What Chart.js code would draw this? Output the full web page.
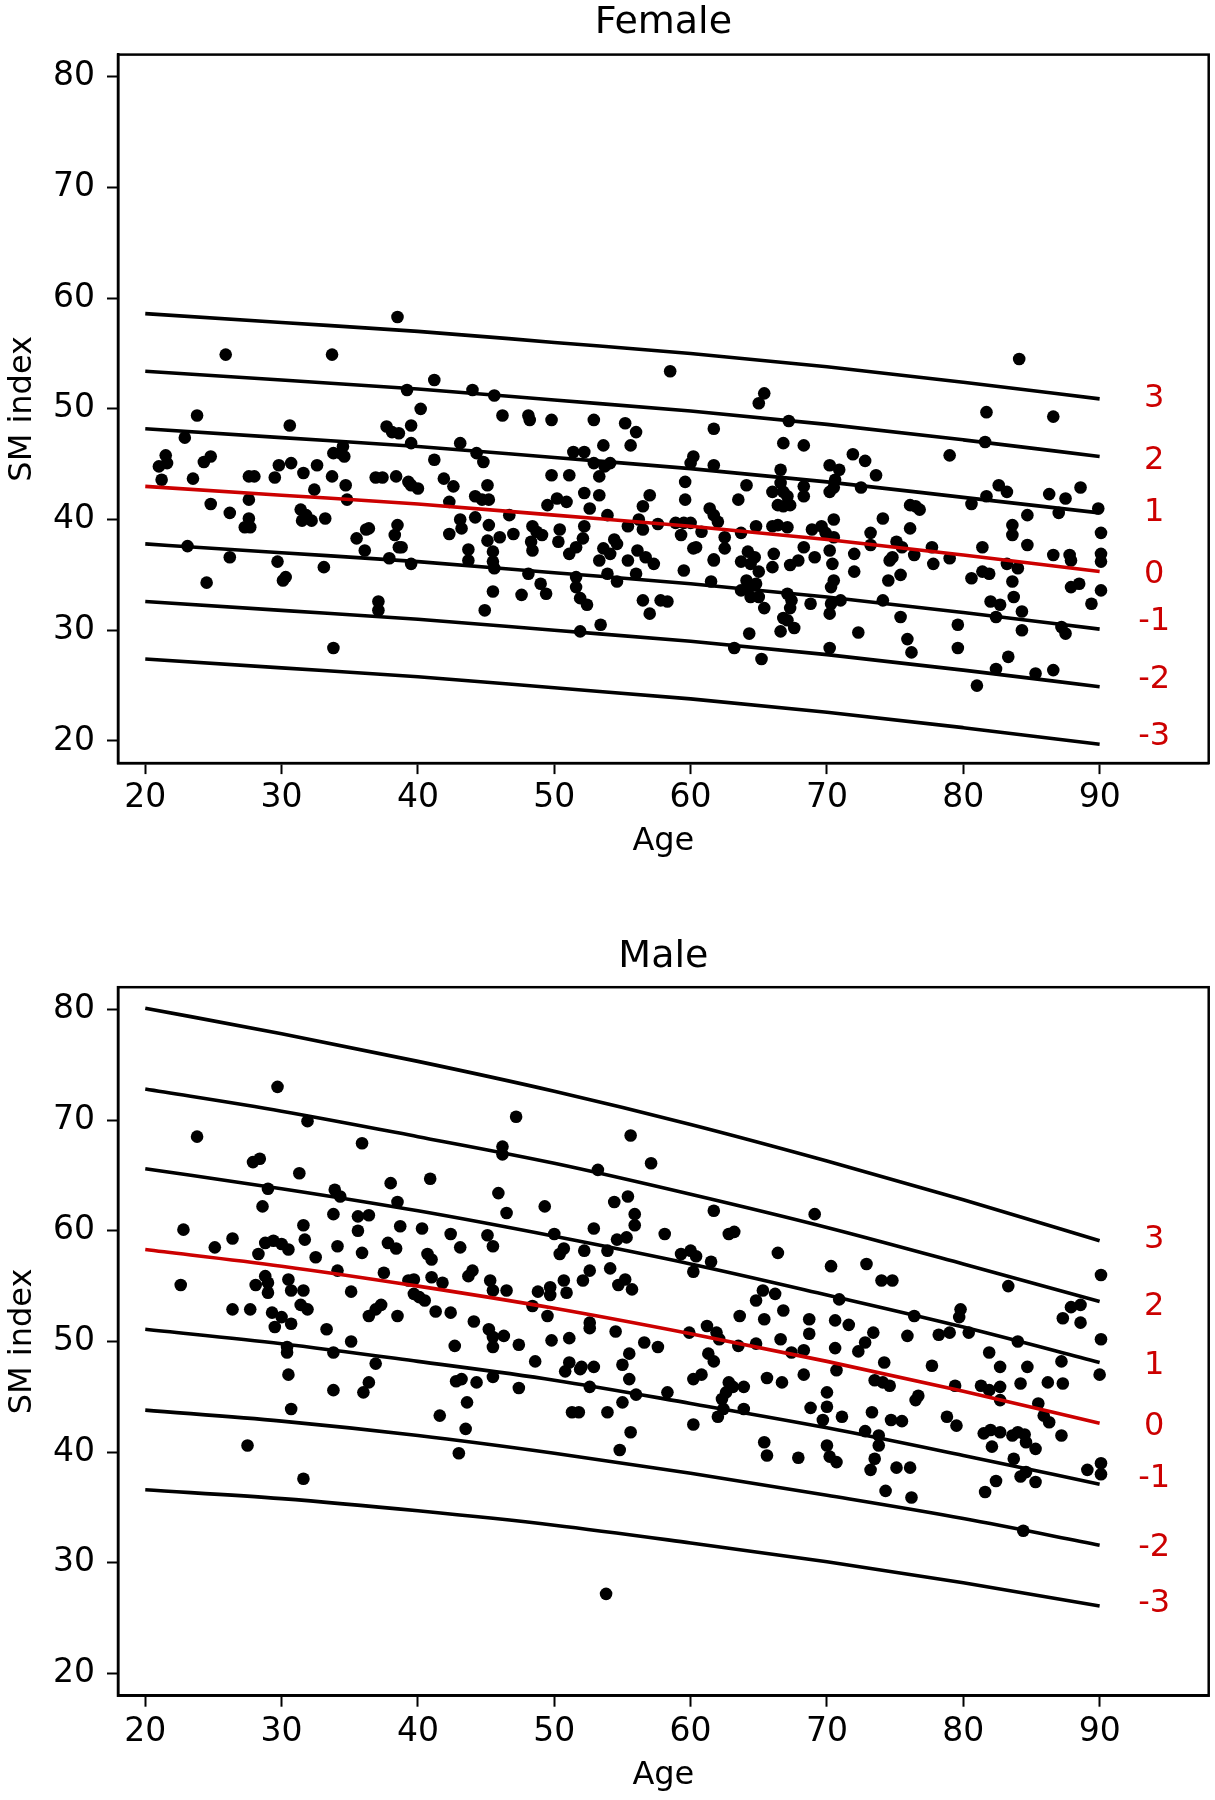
<!DOCTYPE html>
<html><head><meta charset="utf-8">
<script src="https://cdn.jsdelivr.net/npm/chart.js@4/dist/chart.umd.min.js"></script>
<style>
html,body{margin:0;padding:0;background:#fff;}
#wrap{position:relative;width:1215px;height:1800px;}
canvas{position:absolute;left:0;}
</style></head><body>
<div id="wrap">
<canvas id="c1" width="1215" height="900" style="top:0px"></canvas>
<canvas id="c2" width="1215" height="900" style="top:900px"></canvas>
</div>
<script>
const ages = [20,30,40,50,60,70,80,90];
const xTicks = [20,30,40,50,60,70,80,90];
const yTicks = [20,30,40,50,60,70,80];
const zLabels = ['3','2','1','0','-1','-2','-3'];
const labelAge = 94;

const femaleZ3  = [58.6, 57.8, 57.0, 56.0, 55.0, 53.8, 52.4, 50.9];
const femaleZ2  = [53.4, 52.6, 51.8, 50.8, 49.8, 48.6, 47.2, 45.7];
const femaleZ1  = [48.2, 47.4, 46.6, 45.6, 44.6, 43.4, 42.0, 40.6];
const femaleZ0  = [43.0, 42.2, 41.4, 40.4, 39.4, 38.2, 36.8, 35.3];
const femaleZm1 = [37.8, 37.0, 36.2, 35.2, 34.2, 33.0, 31.6, 30.1];
const femaleZm2 = [32.6, 31.8, 31.0, 30.0, 29.0, 27.8, 26.4, 24.9];
const femaleZm3 = [27.4, 26.6, 25.8, 24.8, 23.8, 22.6, 21.2, 19.7];
const femaleLabelY = [50.9, 45.3, 40.6, 35.0, 30.8, 25.5, 20.4];

const maleZ3  = [80.1, 77.8, 75.3, 72.6, 69.6, 66.3, 62.8, 59.1];
const maleZ2  = [72.8, 70.8, 68.5, 66.1, 63.3, 60.3, 57.0, 53.6];
const maleZ1  = [65.6, 63.8, 61.8, 59.5, 57.0, 54.2, 51.3, 48.1];
const maleZ0  = [58.3, 56.8, 55.0, 53.0, 50.7, 48.2, 45.5, 42.6];
const maleZm1 = [51.1, 49.8, 48.2, 46.5, 44.4, 42.2, 39.7, 37.1];
const maleZm2 = [43.8, 42.8, 41.5, 39.9, 38.1, 36.1, 34.0, 31.6];
const maleZm3 = [36.6, 35.8, 34.7, 33.4, 31.8, 30.1, 28.2, 26.1];
const maleLabelY = [59.2, 53.1, 47.8, 42.3, 37.6, 31.4, 26.3];

const femalePoints = [
[23.8,49.4],[30.6,48.5],[22.9,47.4],[21.0,44.8],[21.5,45.8],[21.6,45.1],[21.2,43.6],[24.3,45.2],[24.8,45.7],[23.5,43.7],
[23.1,37.6],[24.8,41.4],[24.5,34.3],[26.2,40.6],[26.2,36.6],[27.6,43.9],[28.0,43.9],[27.6,41.8],[27.6,40.1],[27.7,39.3],
[27.3,39.3],[29.5,43.8],[29.8,44.9],[30.7,45.1],[29.7,36.2],[30.1,34.5],[30.3,34.8],[31.6,44.2],[31.4,40.9],[31.8,40.4],
[31.5,39.9],[32.2,39.9],[32.4,42.7],[32.6,44.9],[33.2,40.1],[33.1,35.7],[33.8,28.4],[33.7,43.9],[33.8,46.0],[34.3,46.0],
[34.5,46.6],[34.6,45.7],[34.7,43.1],[34.8,41.8],[35.5,38.3],[36.2,39.1],[36.4,39.2],[36.1,37.2],[36.9,43.8],[37.4,43.8],
[38.4,43.9],[37.1,32.6],[37.1,31.8],[37.7,48.4],[38.1,47.9],[38.6,47.8],[39.5,48.5],[40.2,50.0],[39.5,46.9],[39.3,43.4],
[39.5,43.1],[40.0,42.8],[38.5,39.5],[38.3,38.6],[38.6,37.5],[38.8,37.5],[37.9,36.5],[39.5,36.0],[41.2,45.4],[41.9,43.7],
[42.6,43.0],[42.3,41.6],[43.1,40.0],[43.2,39.2],[42.3,38.7],[43.1,46.9],[43.7,37.3],[43.7,36.3],[44.3,46.0],[44.8,45.2],
[44.2,42.1],[44.7,41.8],[44.2,40.2],[45.1,43.1],[45.2,41.8],[45.2,39.5],[45.1,38.1],[45.5,37.1],[45.5,36.2],[45.6,35.6],
[45.5,33.5],[44.9,31.8],[46.2,49.4],[46.7,40.4],[47.0,38.7],[46.0,38.4],[47.6,33.2],[48.1,49.4],[48.2,49.0],[48.4,39.4],
[48.7,38.9],[49.1,38.6],[48.3,38.0],[48.4,37.2],[48.1,35.1],[49.0,34.2],[49.4,33.3],[49.8,49.0],[49.8,44.0],[49.5,41.3],
[50.2,41.9],[50.9,41.6],[50.4,39.1],[50.3,38.0],[51.1,44.0],[51.4,46.1],[52.2,46.1],[51.1,36.9],[51.6,37.5],[52.1,38.3],
[52.2,39.4],[52.2,42.4],[52.6,41.0],[51.6,34.8],[51.6,33.9],[51.9,32.9],[52.4,32.3],[51.9,29.9],[52.9,49.0],[52.9,45.1],
[25.9,54.9],[33.7,54.9],[38.5,58.3],[39.2,51.7],[41.2,52.6],[44.0,51.7],[45.6,51.2],
[58.5,53.4],[65.4,51.4],[65.0,50.5],[84.1,54.5],[81.7,49.7],[86.6,49.3],[61.7,48.2],[55.2,48.7],[56.0,47.9],[67.2,48.9],
[81.6,47.0],[66.8,46.9],[68.3,46.7],[53.6,46.7],[55.6,46.7],
[79.0,45.8],[71.9,45.9],[72.8,45.3],[73.6,44.0],[70.2,44.9],[70.9,44.5],[70.6,43.6],[70.2,42.5],[70.5,42.9],[53.7,44.8],
[54.1,45.1],[53.3,43.9],[60.0,45.1],[60.2,45.7],[61.7,44.9],[59.6,43.4],[59.6,41.8],[64.1,43.1],[63.5,41.8],[66.6,44.5],
[66.6,43.3],[66.8,42.5],[67.1,42.1],[66.8,41.2],[66.4,41.3],[66.0,42.5],[67.3,41.3],[68.3,43.0],[68.3,42.1],[72.5,42.9],
[53.3,42.2],[57.0,42.2],[56.5,41.2],[61.4,41.0],[61.7,40.4],[62.0,39.8],[66.0,39.4],[66.4,39.5],[67.1,39.3],[64.8,39.4],
[63.7,38.8],[60.0,39.7],[58.9,39.7],[59.5,39.7],[57.6,39.6],[56.2,40.0],[56.5,39.1],[53.9,40.4],[55.4,39.4],[54.4,38.2],
[53.6,37.4],[54.1,36.9],[54.6,37.8],[53.3,36.3],[55.4,36.3],[56.1,37.2],[56.7,36.6],[57.3,36.0],[60.4,37.5],[60.8,38.9],
[62.5,38.4],[62.5,37.4],[61.7,36.4],[59.5,35.4],[63.7,36.2],[64.2,37.1],[64.7,36.6],[64.4,36.0],[65.0,35.3],[64.8,34.2],
[66.0,35.7],[66.1,36.9],[68.3,37.5],[68.9,39.1],[69.6,39.4],[69.9,38.8],[69.1,36.6],[70.2,37.2],[70.4,36.0],[70.5,38.4],
[67.3,35.9],[67.9,36.3],[70.5,40.0],[72.0,36.9],[72.0,35.3],[73.2,38.8],[73.2,37.7],[74.1,40.1],[74.8,36.6],[74.6,36.3],
[75.1,38.0],[75.5,37.5],[76.1,39.2],[76.1,41.3],[76.8,40.9],[76.5,41.2],[76.4,36.8],[77.7,37.5],[77.8,36.0],[79.0,36.5],
[75.4,35.0],[74.5,34.5],[80.6,41.4],[81.7,42.1],[82.6,43.1],[83.2,42.5],[81.4,37.5],[83.6,39.5],[83.6,38.6],[84.7,40.4],
[84.7,37.7],[86.3,42.3],[87.5,41.9],[87.0,40.6],[88.6,42.9],[89.9,41.0],[90.1,38.8],[90.1,36.9],[90.1,36.2],[86.6,36.8],
[87.8,36.8],[87.9,36.3],[83.2,36.0],[84.0,35.6],[80.6,34.7],[81.4,35.3],[81.9,35.1],[83.6,34.4],[83.7,33.0],[82.0,32.6],
[82.7,32.3],[82.4,31.2],[84.3,31.7],[84.3,30.0],[87.9,33.9],[88.5,34.2],[89.4,32.4],[90.1,33.6],[87.2,30.3],[87.5,29.7],
[83.3,27.6],[82.4,26.5],[85.3,26.1],[86.6,26.4],[81.0,25.0],[79.6,30.5],[79.6,28.4],[75.4,31.2],[75.9,29.2],[76.2,28.0],
[74.1,32.7],[72.3,29.8],[70.2,28.4],[70.2,31.5],[70.3,32.4],[70.3,33.9],[70.5,34.5],[71.0,32.7],[68.8,32.4],[67.1,33.3],
[67.4,32.7],[67.3,32.0],[66.8,31.1],[67.1,30.9],[67.6,30.2],[66.6,29.9],[65.0,33.0],[65.4,32.0],[64.3,33.9],[64.4,33.0],
[64.1,34.5],[64.3,29.7],[63.2,28.4],[65.2,27.4],[63.7,33.6],[61.7,36.3],[61.5,34.4],[60.2,37.4],[56.5,32.7],[57.0,31.5],
[57.8,32.7],[58.3,32.6],[54.6,34.4],[53.9,35.1],[56.0,35.1],[53.4,30.5],[59.3,38.6]
];

const malePoints = [
[29.7,73.0],[23.8,68.5],[31.9,69.9],[47.2,70.3],[35.9,67.9],[27.9,66.2],[28.4,66.5],[46.2,67.6],[46.2,66.9],[31.3,65.2],
[40.9,64.7],[53.2,65.5],[29.0,63.8],[33.9,63.7],[34.3,63.1],[38.0,64.3],[38.5,62.6],[45.9,63.4],[28.6,62.2],[49.3,62.2],
[46.5,61.6],[33.8,61.5],[35.6,61.3],[36.4,61.4],[35.6,60.0],[38.7,60.4],[31.6,60.5],[31.7,59.2],[22.8,60.1],[26.4,59.3],
[25.1,58.5],[40.3,60.2],[42.4,59.7],[43.1,58.5],[45.1,59.6],[45.5,58.6],[50.0,59.7],[50.7,58.4],[50.4,57.9],[52.2,58.2],
[52.9,60.2],[28.8,58.9],[29.4,59.1],[30.0,58.8],[30.5,58.3],[28.3,57.9],[34.1,58.6],[37.8,58.9],[38.4,58.4],[35.9,58.0],
[32.5,57.6],[40.7,57.9],[41.0,57.4],[22.6,55.1],[28.1,55.1],[28.8,55.9],[29.0,55.3],[29.0,54.4],[30.5,55.6],[30.7,54.6],
[31.6,54.6],[34.1,56.4],[37.5,56.2],[39.3,55.5],[39.7,55.6],[39.7,54.3],[40.1,54.0],[40.5,53.7],[41.0,55.8],[41.8,55.3],
[35.1,54.5],[44.0,56.4],[43.7,55.9],[45.3,55.5],[45.5,54.6],[46.5,54.6],[48.8,54.5],[49.7,54.9],[49.7,54.2],[50.7,55.5],
[50.9,54.4],[52.1,55.5],[52.6,56.4],[48.4,53.2],[49.5,52.3],[26.4,52.9],[27.7,52.9],[29.3,52.6],[30.0,52.2],[29.5,51.3],
[30.7,51.6],[31.4,53.3],[31.9,52.9],[33.3,51.1],[36.4,52.3],[36.9,52.9],[37.3,53.3],[38.5,52.3],[41.3,52.7],[42.4,52.6],
[44.1,51.8],[45.2,51.1],[45.5,50.4],[46.3,50.5],[45.5,49.5],[47.4,49.7],[42.7,49.6],[35.1,50.0],[49.8,50.1],[51.1,50.3],
[52.6,51.7],[52.6,51.2],[30.4,49.5],[30.4,49.0],[33.8,49.0],[36.9,48.0],[48.6,48.2],[51.1,48.1],[52.0,47.7],[52.9,47.7],
[30.5,47.0],[30.7,43.9],[27.5,40.6],[31.6,37.6],[33.8,45.6],[36.0,45.4],[36.4,46.3],[41.6,43.3],[42.8,46.4],[43.2,46.6],
[44.3,46.3],[43.6,44.5],[43.5,42.1],[43.0,39.9],[45.5,46.8],[47.4,45.8],[50.8,47.3],[51.9,47.5],[51.3,43.6],[51.8,43.6],
[52.6,45.9],[53.8,27.2],
[55.6,68.6],[57.1,66.1],[69.1,61.5],[54.4,62.6],[55.4,63.1],[55.9,61.5],[55.9,60.5],[61.7,61.8],[54.6,59.2],[55.3,59.4],
[58.1,59.7],[53.9,58.2],[62.8,59.7],[63.2,59.9],[66.4,58.0],[59.3,57.9],[60.0,58.2],[60.4,57.7],[60.2,56.3],[61.5,57.2],
[70.3,56.8],[72.9,57.0],[74.0,55.5],[74.8,55.5],[83.3,55.0],[90.1,56.0],[54.1,56.6],[54.7,55.1],[55.2,55.6],[55.7,54.7],
[64.8,53.7],[65.3,54.6],[66.2,54.3],[70.9,53.8],[66.8,52.8],[63.6,52.3],[65.4,52.0],[68.7,52.0],[68.7,50.7],[70.6,51.9],
[71.6,51.5],[73.4,50.8],[76.4,52.3],[79.8,52.9],[79.7,52.2],[78.2,50.6],[79.0,50.8],[80.4,50.8],[75.9,50.5],[87.3,52.1],
[87.9,53.1],[88.6,53.3],[88.6,51.7],[90.1,50.2],[81.9,49.0],[84.0,50.0],[87.2,48.2],[54.5,50.9],[56.6,49.9],[57.6,49.5],
[59.9,50.8],[61.2,51.4],[61.9,50.8],[62.1,50.2],[61.3,48.9],[63.5,49.6],[64.8,49.8],[66.6,50.2],[67.4,49.0],[68.3,49.2],
[70.6,49.4],[72.3,49.1],[72.8,49.9],[55.5,48.9],[55.0,47.9],[74.2,48.1],[77.7,47.8],[82.7,47.7],[84.7,47.7],
[53.9,43.6],[55.5,46.6],[55.0,44.5],[56.0,45.2],[55.6,41.8],[54.8,40.2],[58.3,45.4],[60.2,42.5],[60.2,46.6],[60.8,47.0],
[61.7,48.2],[62.0,43.2],[62.3,44.8],[62.6,45.4],[62.8,46.3],[63.1,45.9],[62.4,43.9],[63.9,45.9],[63.9,43.9],[65.6,46.7],
[66.7,46.3],[68.3,47.0],[65.4,40.9],[65.6,39.7],[67.9,39.5],[68.8,44.0],[70.0,44.1],[70.0,45.4],[69.7,42.9],[71.1,43.2],
[70.0,40.6],[70.2,39.6],[70.7,39.1],[73.3,43.6],[73.8,41.5],[73.8,40.6],[72.8,41.9],[73.5,46.5],[74.1,46.3],[74.6,46.0],
[70.7,47.4],[73.5,39.4],[73.2,38.4],[74.7,42.9],[75.5,42.8],[75.1,38.6],[76.1,38.6],[74.3,36.5],[76.2,35.9],[76.5,44.7],
[76.7,45.1],[78.8,43.2],[79.5,42.4],[79.4,46.0],[81.3,46.0],[81.9,45.6],[82.7,45.9],[82.7,44.7],[81.5,41.7],[82.0,42.0],
[82.7,41.8],[83.6,41.5],[84.0,41.8],[84.5,41.6],[82.1,40.5],[84.6,40.9],[85.3,40.3],[83.7,39.4],[84.2,37.8],[84.6,38.2],
[85.3,37.3],[82.4,37.4],[81.6,36.4],[84.2,46.2],[85.5,44.4],[85.9,43.3],[86.3,42.7],[86.2,46.3],[87.3,46.2],[90.0,47.0],
[87.2,41.5],[89.1,38.4],[90.1,39.0],[90.1,38.0],[84.4,32.9]
];

const FONT = "'DejaVu Sans', sans-serif";
const RED = '#cc0000';
Chart.defaults.color = '#000';

const annotatePlugin = {
  id: 'annot',
  afterDatasetsDraw(chart, args, opts) {
    const {ctx, chartArea: a, scales} = chart;
    ctx.save();
    ctx.strokeStyle = '#000';
    ctx.lineWidth = 2.5;
    ctx.strokeRect(a.left, a.top, a.right - a.left, a.bottom - a.top);
    ctx.fillStyle = RED;
    ctx.font = '32px ' + FONT;
    ctx.textAlign = 'center';
    ctx.textBaseline = 'middle';
    opts.labelY.forEach((v, i) => {
      ctx.fillText(zLabels[i], scales.x.getPixelForValue(labelAge), scales.y.getPixelForValue(v));
    });
    ctx.restore();
  }
};

function curve(arr) { return ages.map((a, i) => ({x: a, y: arr[i]})); }

function makeChart(id, cfg) {
  const curves = [cfg.z3, cfg.z2, cfg.z1, cfg.z0, cfg.zm1, cfg.zm2, cfg.zm3];
  const datasets = curves.map((arr, i) => ({
    type: 'line',
    data: curve(arr),
    borderColor: i === 3 ? RED : '#000',
    borderWidth: 3.6,
    pointRadius: 0,
    fill: false,
    cubicInterpolationMode: 'monotone',
    order: 1
  }));
  datasets.push({
    type: 'scatter',
    data: cfg.points.map(p => ({x: p[0], y: p[1]})),
    backgroundColor: '#000',
    borderWidth: 0,
    pointRadius: 6.3,
    order: 2
  });
  const gridOpts = {display: true, drawOnChartArea: false, drawTicks: true, tickLength: 11, tickWidth: 2, tickColor: '#000'};
  const borderOpts = {display: true, color: '#000', width: 2.5};
  return new Chart(document.getElementById(id), {
    type: 'line',
    data: {datasets},
    plugins: [annotatePlugin],
    options: {
      responsive: false,
      animation: false,
      devicePixelRatio: 1,
      layout: {padding: {left: 0, right: 6, top: 0, bottom: cfg.padBottom}},
      plugins: {
        legend: {display: false},
        tooltip: {enabled: false},
        title: {display: true, text: cfg.title, fullSize: false, color: '#000',
          font: {family: FONT, size: 38, weight: 'normal'},
          padding: {top: cfg.titleTop, bottom: cfg.titleBottom}},
        annot: {labelY: cfg.labelY}
      },
      scales: {
        x: {
          type: 'linear', min: 18, max: 98,
          afterBuildTicks: s => { s.ticks = xTicks.map(v => ({value: v})); },
          afterFit: s => { s.height = 100; },
          ticks: {font: {family: FONT, size: 33}, color: '#000', padding: cfg.xTickPad},
          grid: gridOpts, border: borderOpts,
          title: {display: true, text: 'Age', color: '#000', font: {family: FONT, size: 32},
            padding: {top: 0, bottom: cfg.xTitlePad}}
        },
        y: {
          type: 'linear', min: 18, max: 82,
          afterBuildTicks: s => { s.ticks = yTicks.map(v => ({value: v})); },
          afterFit: s => { s.width = 118; },
          ticks: {font: {family: FONT, size: 33}, color: '#000', padding: 12},
          grid: gridOpts, border: borderOpts,
          title: {display: true, text: 'SM index', color: '#000', font: {family: FONT, size: 32},
            padding: {top: 3, bottom: 0}}
        }
      }
    }
  });
}

makeChart('c1', {
  title: 'Female', z3: femaleZ3, z2: femaleZ2, z1: femaleZ1, z0: femaleZ0,
  zm1: femaleZm1, zm2: femaleZm2, zm3: femaleZm3, points: femalePoints, labelY: femaleLabelY,
  titleTop: 0, titleBottom: 9, padBottom: 36.9, xTickPad: 5, xTitlePad: 1.9
});
makeChart('c2', {
  title: 'Male', z3: maleZ3, z2: maleZ2, z1: maleZ1, z0: maleZ0,
  zm1: maleZm1, zm2: maleZm2, zm3: maleZm3, points: malePoints, labelY: maleLabelY,
  titleTop: 34, titleBottom: 7.6, padBottom: 4.3, xTickPad: 6, xTitlePad: 0.5
});
</script>
</body></html>
